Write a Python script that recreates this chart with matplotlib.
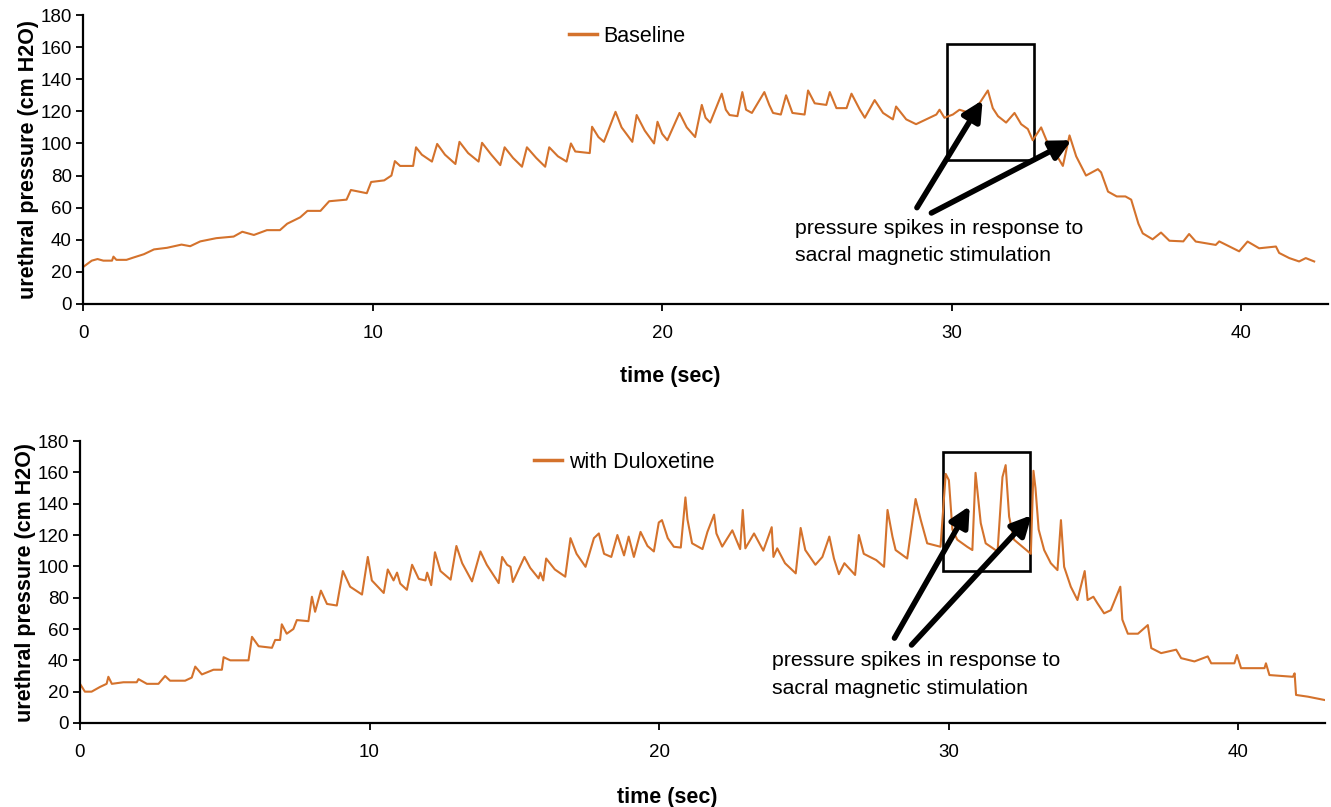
import matplotlib
matplotlib.use("Agg")
import matplotlib.pyplot as plt
from matplotlib.patches import Rectangle

plt.rcParams['font.family'] = ['Liberation Sans', 'DejaVu Sans']

# urethral pressure traces (time in s, pressure in cm H2O)
baseline_t = [0.0, 0.15, 0.3, 0.5, 0.7, 1.0, 1.05, 1.15, 1.5, 1.75, 2.1, 2.45, 2.9, 3.4, 3.7,
              4.05, 4.6, 5.2, 5.5, 5.9, 6.35, 6.8, 7.05, 7.5, 7.75, 8.2, 8.5, 9.1, 9.25, 9.8,
              9.95, 10.4, 10.65, 10.77, 10.95, 11.4, 11.5, 11.7, 12.05, 12.23, 12.5, 12.86,
              13.0, 13.3, 13.66, 13.78, 14.1, 14.41, 14.56, 14.85, 15.16, 15.33, 15.65, 15.96,
              16.1, 16.4, 16.7, 16.85, 17.0, 17.5, 17.58, 17.8, 17.99, 18.39, 18.6, 18.97,
              19.12, 19.4, 19.72, 19.84, 20.0, 20.18, 20.6, 20.85, 21.14, 21.37, 21.5, 21.66,
              22.06, 22.2, 22.33, 22.6, 22.77, 22.9, 23.1, 23.53, 23.7, 23.83, 24.1, 24.28,
              24.5, 24.92, 25.04, 25.27, 25.67, 25.79, 26.02, 26.37, 26.54, 26.83, 27.0, 27.34,
              27.63, 27.97, 28.08, 28.43, 28.77, 29.12, 29.47, 29.58, 29.75, 30.04, 30.27,
              30.62, 30.96, 31.25, 31.42, 31.6, 31.88, 32.17, 32.4, 32.63, 32.8, 33.09, 33.32,
              33.55, 33.84, 34.07, 34.3, 34.64, 35.05, 35.16, 35.4, 35.7, 36.0, 36.2, 36.45,
              36.6, 36.94, 37.23, 37.52, 38.0, 38.2, 38.43, 39.12, 39.24, 39.93, 40.22, 40.62,
              41.2, 41.31, 41.66, 42.0, 42.23, 42.52]
baseline_p = [23, 25, 27, 28, 27, 27, 29.5, 27.5, 27.5, 29, 31, 34, 35, 37, 36,
              39, 41, 42, 45, 43, 46, 46, 50, 54, 58, 58, 64, 65, 71, 69,
              76, 77, 80, 89, 86, 86, 97.6, 93, 88.7, 99.7, 93, 87.2,
              101, 94, 88.7, 100.4, 93, 86.5, 97.6, 91, 85.5, 97.6, 91, 85.5,
              97.6, 92, 88.7, 100, 95, 94, 110.4, 104, 101, 119.7, 110, 101,
              117.7, 108, 100, 113.5, 106, 102, 119, 110, 104, 124, 116, 113,
              131, 121, 117.7, 117, 132, 121, 119, 132, 124, 119, 118, 130,
              119, 118, 133, 125, 124, 132, 122, 122, 131, 121, 116, 127,
              119, 115, 123, 115, 112, 115, 118, 121, 116, 118, 121,
              119, 125, 133, 122, 117, 113, 119, 112, 109, 102, 110, 100,
              95, 86, 105, 92, 80, 84, 82, 70, 67, 67, 65, 50,
              44, 40.3, 44.5, 39.4, 39, 43.6, 38.9, 36.8, 39, 32.8, 38.9, 34.7,
              35.8, 31.8, 28.6, 26.5, 28.6, 26.5]

dulox_t = [0.0, 0.17, 0.4, 0.69, 0.92, 0.98, 1.1, 1.5, 1.96, 2.02, 2.31, 2.71, 2.94, 3.11,
           3.63, 3.86, 3.98, 4.21, 4.61, 4.9, 4.96, 5.19, 5.82, 5.94, 6.17, 6.63, 6.74, 6.91,
           6.97, 7.14, 7.37, 7.49, 7.89, 8.01, 8.12, 8.32, 8.53, 8.87, 9.08, 9.33, 9.74, 9.94,
           10.08, 10.49, 10.63, 10.83, 10.95, 11.06, 11.29, 11.47, 11.7, 11.93, 11.99, 12.13,
           12.26, 12.45, 12.8, 13.0, 13.2, 13.54, 13.83, 14.05, 14.46, 14.58, 14.75, 14.87,
           14.95, 15.35, 15.55, 15.84, 15.9, 16.0, 16.1, 16.4, 16.76, 16.94, 17.15, 17.46,
           17.75, 17.92, 18.1, 18.35, 18.56, 18.79, 18.95, 19.13, 19.36, 19.6, 19.82, 19.99,
           20.1, 20.3, 20.51, 20.75, 20.91, 20.98, 21.14, 21.5, 21.67, 21.9, 21.98, 22.18,
           22.53, 22.8, 22.89, 22.98, 23.28, 23.6, 23.89, 23.95, 24.08, 24.35, 24.72, 24.89,
           25.05, 25.4, 25.64, 25.88, 26.04, 26.21, 26.4, 26.77, 26.9, 27.07, 27.5, 27.77,
           27.89, 28.06, 28.17, 28.57, 28.86, 29.04, 29.26, 29.72, 29.9, 30.01, 30.13, 30.3,
           30.64, 30.82, 30.93, 31.11, 31.28, 31.69, 31.86, 31.97, 32.09, 32.26, 32.55, 32.84,
           32.93, 33.0, 33.11, 33.3, 33.53, 33.76, 33.88, 33.99, 34.22, 34.45, 34.7, 34.8,
           35.0, 35.14, 35.37, 35.6, 35.93, 36.0, 36.19, 36.54, 36.88, 37.0, 37.34, 37.86,
           38.03, 38.49, 38.95, 39.07, 39.87, 39.96, 40.1, 40.91, 40.96, 41.08, 41.89, 41.95,
           42.0, 42.41, 42.98]
dulox_p = [25, 20, 20, 23, 25, 29.5, 25, 26, 26, 28, 25, 25, 30, 27,
           27, 29, 36, 31, 34, 34, 42, 40, 40, 55, 49, 48, 53, 53,
           63, 57, 60, 65.7, 65, 80.6, 71, 84.5, 76, 75, 97, 87, 82, 106,
           91, 83, 98, 91, 96, 89, 85, 101, 92, 91, 96, 88,
           109, 97, 91.5, 113, 102, 90.4, 109.5, 101, 89.3, 106, 101, 99.7,
           90, 106, 99, 92.3, 96, 91, 105, 98, 93.4, 118, 108, 99.7,
           118, 121, 108, 106, 120, 107, 119, 106, 122, 113, 109.5, 128,
           129.5, 118, 112.5, 112, 144, 130, 114.7, 111, 122, 133, 121, 112.6,
           123, 111, 136, 111.5, 121, 110, 125, 106, 111.5, 102, 95.5, 124.5,
           110.4, 101, 106, 119, 105, 95, 102, 94.5, 120, 108, 104, 99.7,
           136, 119, 110.4, 105, 143, 129.5, 114.7, 112.5, 159, 155, 123.5, 117,
           112.5, 110.4, 159.7, 127.6, 114.7, 109.5, 157, 164.6, 131.7, 117, 112.5, 108,
           161, 150, 123.5, 110.4, 102, 97.6, 129.5, 99.7, 87, 78.5, 97, 78.5,
           80.6, 76.4, 70, 72, 87, 66, 57, 57, 62.5, 47.8, 44.6, 46.8,
           41.4, 39.3, 42.5, 38.1, 38.1, 43.4, 35, 35, 38.1, 30.6, 29.5, 31.7,
           17.9, 16.8, 14.7]

y_ticks = [0, 20, 40, 60, 80, 100, 120, 140, 160, 180]
x_ticks = [0, 10, 20, 30, 40]
note_lines = ["pressure spikes in response to", "sacral magnetic stimulation"]

line_color = "#d4722c"

fig = plt.figure(figsize=(13.31, 8.07), dpi=100)
ax1 = fig.add_axes([0.0624, 0.6233, 0.9354, 0.3581])
ax2 = fig.add_axes([0.0601, 0.1041, 0.9354, 0.3494])


def style(ax, xlabel_y):
    ax.set_xlim(0, 43)
    ax.set_ylim(0, 180)
    ax.set_yticks(y_ticks)
    ax.set_xticks(x_ticks)
    for side in ["top", "right"]:
        ax.spines[side].set_visible(False)
    for side in ["left", "bottom"]:
        ax.spines[side].set_linewidth(1.6)
    ax.tick_params(axis="y", direction="out", length=5, width=1.3, labelsize=13.5, pad=3)
    ax.tick_params(axis="x", direction="out", length=5, width=1.3, labelsize=13.5, pad=10)
    ax.set_xlabel("time (sec)", fontsize=15.5, fontweight="bold")
    ax.xaxis.set_label_coords(0.472, xlabel_y)
    ax.set_ylabel("urethral pressure (cm H2O)", fontsize=15.5, fontweight="bold", labelpad=1)


def arrow(ax, tail, head):
    ax.annotate("", xy=head, xytext=tail,
                arrowprops=dict(arrowstyle="-|>", color="black", lw=4,
                                mutation_scale=30, shrinkA=0, shrinkB=0))


def add_legend(ax, anchor):
    leg = ax.legend(loc="center left", bbox_to_anchor=anchor, frameon=False, fontsize=15.5,
                    borderpad=0, borderaxespad=0, handlelength=1.3, handletextpad=0.3)
    leg.get_lines()[0].set_linewidth(2.5)


# Baseline
ax1.plot(baseline_t, baseline_p, color=line_color, lw=1.5, label="Baseline")
style(ax1, -0.215)
add_legend(ax1, (0.39, 0.927))
ax1.add_patch(Rectangle((29.85, 90), 3.0, 72, fill=False, ec="black", lw=1.9))
arrow(ax1, (28.8, 60), (31.07, 127))
arrow(ax1, (29.3, 56.7), (34.14, 102))
ax1.text(24.6, 47.3, note_lines[0], fontsize=15.3, va="center")
ax1.text(24.6, 29.9, note_lines[1], fontsize=15.3, va="center")

# with Duloxetine
ax2.plot(dulox_t, dulox_p, color=line_color, lw=1.5, label="with Duloxetine")
style(ax2, -0.228)
add_legend(ax2, (0.365, 0.9255))
ax2.add_patch(Rectangle((29.8, 97), 3.0, 76, fill=False, ec="black", lw=1.9))
arrow(ax2, (28.13, 54.2), (30.73, 138.5))
arrow(ax2, (28.72, 49.8), (32.87, 132.7))
ax2.text(23.9, 40.2, note_lines[0], fontsize=15.3, va="center")
ax2.text(23.9, 22.3, note_lines[1], fontsize=15.3, va="center")

fig.savefig("out.png", dpi=100)
